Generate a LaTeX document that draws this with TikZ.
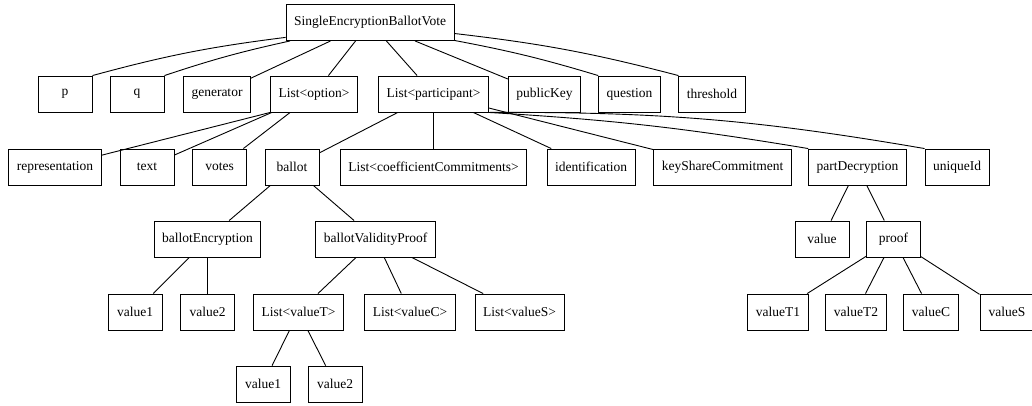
\documentclass[tikz,border=0pt]{standalone}
\usepackage{fontspec}
\setmainfont{Liberation Serif}

\begin{document}
\begin{tikzpicture}[x=1pt,y=-1pt,
  box/.style={draw,rectangle,line width=0.9pt,minimum width=54pt,minimum height=36pt,
    inner xsep=8pt,inner ysep=0pt,font=\fontsize{13.5}{16}\selectfont},
  link/.style={line width=0.9pt}]
\clip (0,0) rectangle (1032,405);
% root
\node[box] (root) at (370,22.5) {SingleEncryptionBallotVote};
% first level
\node[box] (p) at (65,94) {p};
\node[box] (q) at (137,94) {q};
\node[box] (generator) at (217,94) {generator};
\node[box] (optlist) at (314,94) {List<option>};
\node[box] (partlist) at (433.5,94) {List<participant>};
\node[box] (publickey) at (544.5,94) {publicKey};
\node[box] (question) at (629.5,94) {question};
\node[box] (threshold) at (712,94) {threshold};
% second level
\node[box] (representation) at (55,167) {representation};
\node[box] (text) at (147,167) {text};
\node[box] (votes) at (219.5,167) {votes};
\node[box] (ballot) at (292,167) {ballot};
\node[box] (coeffs) at (433.5,167) {List<coefficientCommitments>};
\node[box] (ident) at (591,167) {identification};
\node[box] (keyshare) at (722.5,167) {keyShareCommitment};
\node[box] (partdec) at (857.5,167) {partDecryption};
\node[box] (uniqueid) at (957,167) {uniqueId};
% third level
\node[box] (ballotenc) at (207.5,239) {ballotEncryption};
\node[box] (validity) at (375.5,239) {ballotValidityProof};
\node[box] (decvalue) at (822,239) {value};
\node[box] (proof) at (893.5,239) {proof};
% fourth level
\node[box] (encv1) at (135,312) {value1};
\node[box] (encv2) at (207.5,312) {value2};
\node[box] (listT) at (298.5,312) {List<valueT>};
\node[box] (listC) at (410,312) {List<valueC>};
\node[box] (listS) at (519.5,312) {List<valueS>};
\node[box] (valT1) at (778,312) {valueT1};
\node[box] (valT2) at (856,312) {valueT2};
\node[box] (valC) at (931,312) {valueC};
\node[box] (valS) at (1007,312) {valueS};
% fifth level
\node[box] (tv1) at (263,384) {value1};
\node[box] (tv2) at (335,384) {value2};

% edges from the root
\draw[link] (root.190) to[bend right=4] (p.north east);
\draw[link] (root.193) to[bend right=3] (q.north east);
\draw[link] (root) -- (generator);
\draw[link] (root) -- (optlist);
\draw[link] (root) -- (partlist);
\draw[link] (root) -- (publickey);
\draw[link] (root.348) to[bend left=3] (question.north west);
\path (root.east) ++(0,11) coordinate (rootr);
\draw[link] (rootr) to[bend left=4] (threshold.north west);
% options
\draw[link] (optlist.south west) -- (representation);
\draw[link] (optlist) -- (text);
\draw[link] (optlist) -- (votes);
% participants
\draw[link] (partlist) -- (ballot);
\draw[link] (partlist) -- (coeffs);
\draw[link] (partlist) -- (ident);
\draw[link] (partlist) -- (keyshare);
\draw[link] (partlist.south east) to[bend left=3] (partdec.north west);
\draw[link] (partlist.south east) to[bend left=5] (uniqueid.north west);
% ballot
\draw[link] (ballot) -- (ballotenc);
\draw[link] (ballot) -- (validity);
\draw[link] (ballotenc) -- (encv1);
\draw[link] (ballotenc) -- (encv2);
\draw[link] (validity) -- (listT);
\draw[link] (validity) -- (listC);
\draw[link] (validity) -- (listS);
\draw[link] (listT) -- (tv1);
\draw[link] (listT) -- (tv2);
% partial decryption
\draw[link] (partdec) -- (decvalue);
\draw[link] (partdec) -- (proof);
\draw[link] (proof) -- (valT1);
\draw[link] (proof) -- (valT2);
\draw[link] (proof) -- (valC);
\draw[link] (proof) -- (valS);
\end{tikzpicture}
\end{document}
